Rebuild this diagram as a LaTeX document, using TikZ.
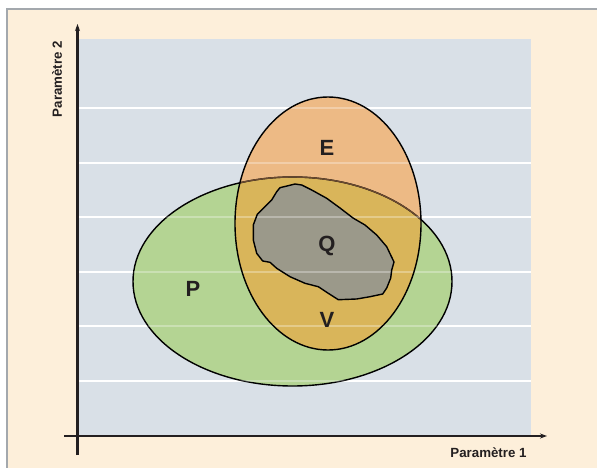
\documentclass[tikz,border=0pt]{standalone}
\usepackage{fontspec}
\setmainfont{Liberation Sans}
\usetikzlibrary{arrows.meta}
\definecolor{beige}{HTML}{FDEFDA}
\definecolor{framegray}{HTML}{A3A8AD}
\definecolor{panel}{HTML}{D9E0E7}
\definecolor{pgreen}{HTML}{B4D493}
\definecolor{eorange}{HTML}{EDBA85}
\definecolor{overlap}{HTML}{D9B55A}
\definecolor{qgray}{HTML}{9B998A}
\definecolor{ink}{HTML}{231F20}
\definecolor{pedge}{HTML}{6A4A30}
\begin{document}
\begin{tikzpicture}[x=1pt,y=-1pt,
  lbl/.style={font=\bfseries\fontsize{22}{26}\selectfont, text=ink, inner sep=0pt},
  axlbl/.style={font=\bfseries\fontsize{13.3}{15}\selectfont, text=ink, inner sep=0pt},
  gridline/.style={white, line width=2pt},
  gridfaint/.style={white, opacity=0.3, line width=2pt},
  axis/.style={ink, line width=2.7pt, -{Stealth[length=7pt,width=5pt]}},
  outline/.style={black, line width=1.4pt},
  qshape/.style={fill=qgray, draw=black, line width=1.4pt, line join=round}]
\useasboundingbox (0,0) rectangle (597,468);
\fill[white] (0,0) rectangle (597,468);
\fill[beige] (7,9) rectangle (597,468);
\draw[framegray, line width=1.5pt] (7,468) -- (7,9) -- (597,9);
\fill[panel] (78,39) rectangle (531,435);
\foreach \yy in {108,163,217,272,326,381}
  \draw[gridline] (78,\yy) -- (531,\yy);
% ellipses
\fill[pgreen] (292.5,281.5) ellipse [x radius=159.5pt, y radius=104.5pt];
\fill[eorange] (328,223.5) ellipse [x radius=93pt, y radius=126.5pt];
\begin{scope}
  \clip (292.5,281.5) ellipse [x radius=159.5pt, y radius=104.5pt];
  \fill[overlap] (328,223.5) ellipse [x radius=93pt, y radius=126.5pt];
\end{scope}
\draw[outline] (292.5,281.5) ellipse [x radius=159.5pt, y radius=104.5pt];
\begin{scope}
  \clip (328,223.5) ellipse [x radius=93pt, y radius=126.5pt];
  \draw[pedge, line width=1.4pt] (292.5,281.5) ellipse [x radius=159.5pt, y radius=104.5pt];
\end{scope}
% Q blob
\fill[qgray] (280,187.7) -- (295,184) -- (301.7,185) -- (311.7,190) -- (326.7,198.3) -- (340,208) -- (353,218) -- (365,225) -- (376.7,235) -- (386.7,246.7) -- (394,262) -- (391.7,270) -- (390.7,278) -- (386.7,288) -- (382.7,294) -- (370,296.7) -- (356.7,299) -- (338.3,299.7) -- (328.3,293.3) -- (318.3,286.7) -- (305,283.3) -- (290,276.7) -- (276.7,268.3) -- (270,262.3) -- (262.7,261) -- (256.7,253.3) -- (253.3,240) -- (253.3,225) -- (257.3,214.3) -- (265,206.7) -- (271.7,200) -- (276.7,191.7) -- cycle;
% faint grid through fills
\begin{scope}
  \clip (292.5,281.5) ellipse [x radius=159.5pt, y radius=104.5pt]
        (328,223.5) ellipse [x radius=93pt, y radius=126.5pt];
  \foreach \yy in {108,163,217,272,326,381}
    \draw[gridfaint] (78,\yy) -- (531,\yy);
\end{scope}
\draw[outline, line join=round] (280,187.7) -- (295,184) -- (301.7,185) -- (311.7,190) -- (326.7,198.3) -- (340,208) -- (353,218) -- (365,225) -- (376.7,235) -- (386.7,246.7) -- (394,262) -- (391.7,270) -- (390.7,278) -- (386.7,288) -- (382.7,294) -- (370,296.7) -- (356.7,299) -- (338.3,299.7) -- (328.3,293.3) -- (318.3,286.7) -- (305,283.3) -- (290,276.7) -- (276.7,268.3) -- (270,262.3) -- (262.7,261) -- (256.7,253.3) -- (253.3,240) -- (253.3,225) -- (257.3,214.3) -- (265,206.7) -- (271.7,200) -- (276.7,191.7) -- cycle;
\draw[outline] (328,223.5) ellipse [x radius=93pt, y radius=126.5pt];
% labels
\node[lbl] (E) at (327,147.5) {E};
\node[lbl] (Q) at (327,246) {Q};
\node[lbl] (P) at (193,289) {P};
\node[lbl] (V) at (327,320) {V};
% axes
\coordinate (ybot) at (77.5,455);
\coordinate (ytop) at (77.5,24);
\coordinate (xleft) at (64,436);
\coordinate (xright) at (547,436);
\draw[axis] (ybot) -- (ytop);
\draw[axis] (xleft) -- (xright);
\node[axlbl, rotate=90] (p2) at (57,79) {Paramètre 2};
\node[axlbl] (p1) at (488.5,453) {Paramètre 1};
\end{tikzpicture}
\end{document}
